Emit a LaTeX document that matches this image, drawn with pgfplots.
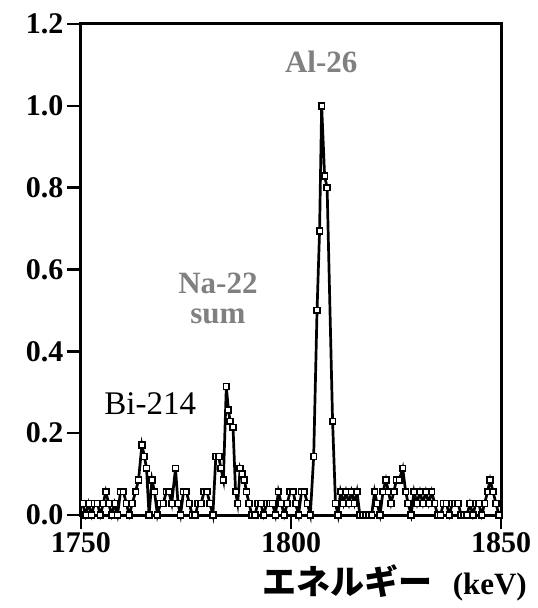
\documentclass[border=0pt]{standalone}
\usepackage{fontspec}
\setmainfont{Liberation Serif}
\newfontfamily\jp{Noto Sans CJK JP}
\usepackage{pgfplots}
\pgfplotsset{compat=1.18}
\definecolor{labelgray}{HTML}{808080}

\begin{document}
\begin{tikzpicture}
  \begin{axis}[
      scale only axis,
      width=420pt, height=491pt,
      xmin=1750, xmax=1850,
      ymin=0, ymax=1.2,
      xtick={1750,1800,1850},
      ytick={0,0.2,0.4,0.6,0.8,1.0,1.2},
      xtick pos=left, ytick pos=left,
      tick align=outside,
      major tick length=14pt,
      tick style={line width=2.4pt, black},
      axis line style={line width=3pt},
      /pgf/number format/assume math mode=true,
      xticklabel style={font=\fontsize{30}{32}\selectfont\bfseries, /pgf/number format/set thousands separator={}},
      yticklabel style={font=\fontsize{30}{32}\selectfont\bfseries,
        /pgf/number format/.cd, fixed, fixed zerofill, precision=1},
      clip=false,
    ]

    \addplot[
        black, line width=2.7pt,
        mark=square*,
        mark size=2.9pt,
        mark options={fill=white, draw=black, line width=1.7pt},
      ]
      coordinates {
        (1750.4,0.028)(1751.1,0)(1751.8,0.028)(1752.5,0)(1753.2,0.028)(1753.9,0.028)
        (1754.6,0)(1755.3,0.028)(1755.9,0.057)(1756.6,0.028)(1757.3,0)(1758.0,0.028)
        (1758.7,0)(1759.4,0.057)(1760.1,0.057)(1760.8,0.028)(1761.5,0)(1762.2,0.028)
        (1763.0,0.057)(1763.7,0.086)(1764.5,0.171)(1765.1,0.143)(1765.6,0.114)(1766.2,0)
        (1766.9,0.086)(1767.5,0.057)(1768.2,0)(1768.9,0.028)(1769.6,0.028)(1770.3,0.057)
        (1770.9,0.057)(1771.6,0.028)(1772.5,0.114)(1773.1,0.028)(1773.7,0)(1774.4,0.057)
        (1775.1,0.057)(1775.8,0.028)(1776.5,0)(1777.2,0)(1777.9,0.028)(1778.6,0.028)
        (1779.3,0.057)(1780.0,0.057)(1780.7,0.028)(1781.4,0)(1782.1,0.143)(1782.8,0.143)
        (1783.3,0.114)(1783.9,0.086)(1784.6,0.314)(1785.1,0.257)(1785.5,0.229)(1786.2,0.214)
        (1786.8,0.057)(1787.3,0.028)(1787.9,0.114)(1788.4,0.100)(1788.9,0.086)(1789.4,0.057)
        (1790.0,0.028)(1790.7,0)(1791.4,0)(1792.1,0.028)(1792.8,0.028)(1793.5,0)
        (1794.2,0.028)(1794.9,0.028)(1795.6,0.028)(1796.3,0)(1797.0,0.057)(1797.7,0.028)
        (1798.4,0)(1799.1,0.028)(1799.8,0.057)(1800.5,0.057)(1801.1,0.028)(1801.8,0)
        (1802.5,0.057)(1803.2,0.057)(1803.9,0.028)(1804.6,0)(1805.4,0.143)(1806.2,0.500)
        (1806.8,0.694)(1807.3,1.000)(1808.0,0.829)(1808.6,0.800)(1809.9,0.229)(1810.6,0.028)
        (1811.2,0)(1811.8,0.057)(1812.5,0.028)(1813.1,0.057)(1813.8,0.028)(1814.4,0.057)
        (1815.1,0.028)(1815.7,0.057)(1816.4,0)(1817.1,0)(1817.8,0)(1818.5,0)
        (1819.2,0)(1819.9,0.057)(1820.5,0.028)(1821.2,0)(1821.9,0.057)(1822.6,0.086)
        (1823.2,0.057)(1823.8,0.028)(1824.5,0.057)(1825.1,0.086)(1825.8,0.086)(1826.6,0.114)
        (1827.3,0.057)(1827.9,0.028)(1828.6,0)(1829.3,0.057)(1830.0,0.028)(1830.7,0.057)
        (1831.4,0.028)(1832.1,0.057)(1832.8,0.028)(1833.5,0.057)(1834.2,0.028)(1834.9,0)
        (1835.6,0)(1836.3,0.028)(1837.0,0.028)(1837.7,0)(1838.4,0.028)(1839.1,0.028)
        (1839.8,0.028)(1840.5,0)(1841.2,0)(1841.9,0)(1842.6,0.028)(1843.3,0)
        (1844.0,0.028)(1844.7,0.028)(1845.4,0)(1846.1,0.028)(1846.8,0.057)(1847.4,0.086)
        (1848.1,0.057)(1848.8,0.028)(1849.5,0)
      };

    \node[anchor=base, text=labelgray, font=\fontsize{31}{33}\selectfont\bfseries]
      at (axis cs:1807.2,1.081) {Al-26};
    \node[anchor=base, text=labelgray, align=center,
          font=\fontsize{31}{30}\selectfont\bfseries]
      at (axis cs:1782.6,0.469) {Na-22\\sum};
    \node[anchor=base, font=\fontsize{33}{35}\selectfont]
      at (axis cs:1766.5,0.2445) {Bi-214};

    \node[anchor=base east, inner sep=0pt]
      at ([shift={(26pt,-79pt)}]rel axis cs:1,0)
      {{\jp\bfseries\fontsize{34}{36}\selectfont エネルギー}\hspace{20pt}{\bfseries\fontsize{31}{33}\selectfont (keV)}};

    \coordinate (SW) at (rel axis cs:0,0);
    \coordinate (NE) at (rel axis cs:1,1);
  \end{axis}
  \pgfresetboundingbox
  \path[use as bounding box] ([shift={(-81pt,-93pt)}]SW) rectangle ([shift={(37pt,24pt)}]NE);
\end{tikzpicture}
\end{document}
